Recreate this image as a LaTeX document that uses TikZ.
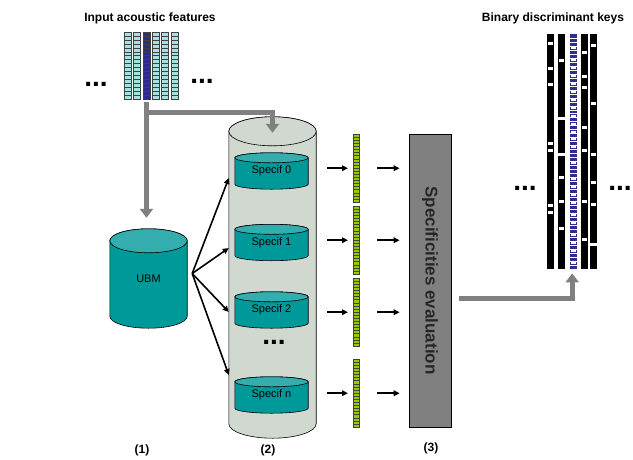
\documentclass[tikz,border=0pt]{standalone}
\usepackage{fontspec}
\setmainfont{Liberation Sans}
\usetikzlibrary{
    positioning,
    arrows.meta,
    calc,
    backgrounds,
}
\definecolor{tealbody}{HTML}{009999}
\definecolor{tealtop}{HTML}{33ADAD}
\definecolor{bankgray}{HTML}{D0D8D0}
\definecolor{featcyan}{HTML}{A8E0E0}
\definecolor{featblue}{HTML}{2B2B8F}
\definecolor{vecgreen}{HTML}{99CC00}
\definecolor{keyblue}{HTML}{2E2E90}
\definecolor{flowgray}{HTML}{808080}
\tikzset{
    % Database styles (the cylinder is drawn by \drawdb)
    db/.style={rectangle, inner sep=0pt, font=\fontsize{11}{13}\selectfont},
    spec db/.style={db, minimum width=73pt, minimum height=36pt},
    % Cell styles
    feat cell/.style={draw=black!75, fill=featcyan, line width=0.4pt},
    featb cell/.style={draw=black!75, fill=featblue, line width=0.4pt},
    vec cell/.style={draw=black!75, fill=vecgreen, line width=0.4pt},
    % Text styles
    title/.style={font=\bfseries\fontsize{12}{14}\selectfont},
    dots/.style={font=\bfseries\fontsize{28}{30}\selectfont, inner sep=0pt},
    step label/.style={font=\bfseries\fontsize{12}{14}\selectfont},
    eval box/.style={rectangle, draw, fill=flowgray, line width=0.6pt, inner sep=0pt},
}
% cylinder behind a node: node, body colour, end colour, end radius
\newcommand{\drawdb}[4]{%
    \begin{scope}[on background layer]
    \draw[line width=0.6pt, fill=#2]
        let \p1=(#1.north west), \p2=(#1.south east), \n1={(\x2-\x1)/2} in
        (\x1,\y1-#4) -- (\x1,\y2+#4)
        arc[start angle=180, end angle=360, x radius=\n1*1pt, y radius=#4]
        -- (\x2,\y1-#4)
        arc[start angle=0, end angle=180, x radius=\n1*1pt, y radius=#4] -- cycle;
    \draw[line width=0.6pt, fill=#3]
        let \p1=(#1.north west), \p2=(#1.south east), \n1={(\x2-\x1)/2} in
        (\x1+\n1*1pt,\y1-#4) ellipse [x radius=\n1*1pt, y radius=#4];
    \end{scope}
}

\begin{document}
\begin{tikzpicture}[x=1pt, y=-1pt,
    arrow/.style={-{Triangle[length=6pt, width=5.5pt]}, line width=1.6pt},
    flow/.style={-{Triangle[length=9pt, width=13pt]}, line width=5pt, flowgray},
]
    \useasboundingbox (0,0) rectangle (633,459);

    % Input features
    \node[title] (intitle) at (150,18) {Input acoustic features};
    \node[inner sep=0pt, minimum width=53pt, minimum height=67pt] (feat) at (150.5,65.5) {};
    \foreach \i in {0,1,3,4,5} {
        \foreach \k in {0,...,16} {
            \draw[feat cell] (124.3+\i*9.3, 32+\k*3.94) rectangle ++(7,3.94);
        }
    }
    \foreach \k in {0,...,16} {
        \draw[featb cell] (142.9, 32+\k*3.94) rectangle ++(7,3.94);
    }
    \node[dots] (inleft) at (96,84) {...};
    \node[dots] (inright) at (202,81) {...};

    % UBM
    \node[db, minimum width=77pt, minimum height=99pt] (ubm) at (148.5,278.5) {UBM};
    \drawdb{ubm}{tealbody}{tealtop}{12pt}

    % Specificity models
    \node[db, minimum width=87pt, minimum height=321pt] (bank) at (272.5,277.5) {};
    \drawdb{bank}{bankgray}{bankgray}{14.5pt}
    \node[spec db] (spec0) at (271.5,171) {Specif 0};
    \node[spec db] (spec1) at (271.5,242.5) {Specif 1};
    \node[spec db] (spec2) at (271.5,310) {Specif 2};
    \node[dots] (bankdots) at (274,342) {...};
    \node[spec db] (specn) at (271.5,395) {Specif n};
    \foreach \s in {spec0, spec1, spec2, specn} {
        \drawdb{\s}{tealbody}{tealtop}{5pt}
    }

    % Fan-out arrows
    \coordinate (fan) at ([xshift=5pt, yshift=5pt]ubm.east);
    \foreach \n/\y in {0/178, 1/248, 2/312, 3/375} {
        \coordinate (in\n) at (bank.west |- 0,\y);
        \draw[arrow] (fan) -- (in\n);
    }

    % Evaluation
    \node[eval box, minimum width=42pt, minimum height=293pt] (eval) at (430,280.5) {};
    \node[rotate=-90, font=\bfseries\fontsize{17}{19}\selectfont, text=black!85] (evaltext) at (eval.center) {Specificities evaluation};

    % Score vectors
    \foreach \n/\y in {0/134, 1/206, 2/278, 3/359} {
        \node[inner sep=0pt, minimum width=6pt, minimum height=68pt, anchor=north west] (vec\n) at (353,\y) {};
        \foreach \k in {0,...,21} {
            \draw[vec cell] (353, \y+\k*3.09) rectangle ++(6,3.09);
        }
        \draw[arrow] ([xshift=-26pt]vec\n.west) -- ([xshift=-5pt]vec\n.west);
        \draw[arrow, shorten >=9pt] ([xshift=18pt]vec\n.east) -- (eval.west |- vec\n);
    }

    % Output keys
    \node[title] (outtitle) at (553,18) {Binary discriminant keys};
    \node[inner sep=0pt, minimum width=50pt, minimum height=235pt, anchor=north west] (keys) at (547,34) {};
    \foreach \x in {547,558,581,590} {
        \fill[black] (\x,34) rectangle (\x+7,269);
    }
    \foreach \x/\y in {547/43, 547/68, 547/84, 547/143, 547/150, 547/205, 547/212,
                       558/60, 558/177, 558/201, 558/228,
                       581/52, 581/76, 581/87, 581/127, 581/150, 581/201, 581/239,
                       590/45, 590/103, 590/154, 590/182, 590/204} {
        \fill[white] (\x+1,\y-1) rectangle ++(5,2.5);
    }
    \foreach \x/\y in {558/118, 558/154, 590/244} {
        \fill[white] (\x-0.5,\y-1.5) rectangle ++(8,3);
    }
    \fill[keyblue] (570,34) rectangle (577,269);
    \foreach \k in {1,...,58} {
        \draw[white, line width=0.25pt] (570,34+\k*3.98) -- ++(7,0);
    }
    \foreach \k in {3,6,8,10,12,14,16,18,20,22,24,26,28,32,36,38,40,42,45,47,50,52,54,57} {
        \fill[white] (571,34+\k*3.98+1) rectangle ++(5,2);
    }
    \node[dots] (keysleft) at (525,188) {...};
    \node[dots] (keysright) at (620,188) {...};

    % Flows
    \coordinate (split) at ([xshift=-4pt, yshift=-3pt]feat.south);
    \coordinate (bankin) at ([yshift=-16pt]bank.north);
    \draw[flow, shorten >=11pt] (split) -- (split |- ubm.north);
    \draw[flow] (split) -- ++(0,10) -| (bankin);
    \draw[flow, shorten >=4pt] ([xshift=8pt, yshift=-17.5pt]eval.east) -| (keys.south);

    % Step labels
    \node[step label] (lab1) at (142,450) {(1)};
    \node[step label] (lab2) at (268,450) {(2)};
    \node[step label] (lab3) at (431,448) {(3)};
\end{tikzpicture}
\end{document}
